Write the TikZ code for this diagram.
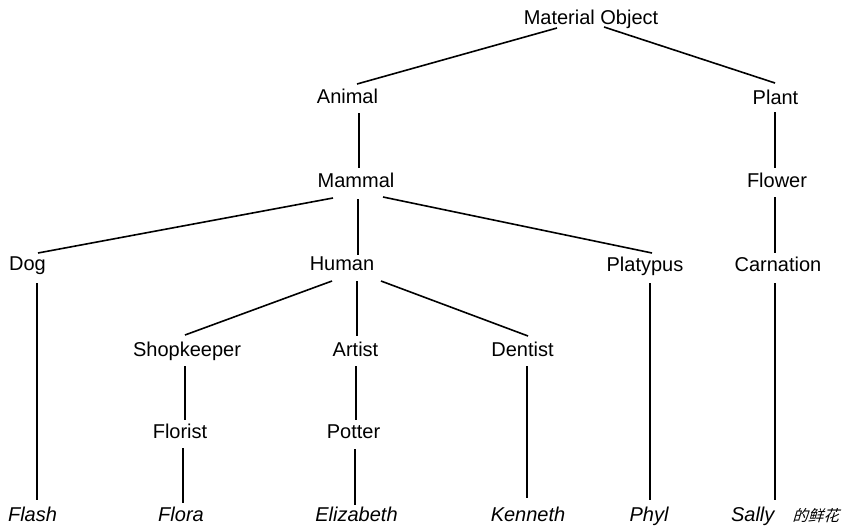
\documentclass[tikz,border=0pt]{standalone}
\usepackage{fontspec}
\setmainfont{Liberation Sans}
\newfontfamily\cjk[FakeSlant=0.3]{Noto Sans CJK SC}
\begin{document}
\begin{tikzpicture}[x=1pt,y=-1pt,
  lbl/.style={anchor=base,inner sep=0pt,font=\fontsize{20}{24}\selectfont},
  leaf/.style={lbl,font=\fontsize{20}{24}\selectfont\itshape},
  edge/.style={line width=1.6pt,line cap=butt}]
\useasboundingbox (0,0) rectangle (842,527);
% nodes
\node[lbl] (mo) at (591,25) {Material Object};
\node[lbl] (animal) at (347.5,103) {Animal};
\node[lbl] (plant) at (775.5,104) {Plant};
\node[lbl] (mammal) at (356,187) {Mammal};
\node[lbl] (flower) at (777,187) {Flower};
\node[lbl] (dog) at (27.5,270) {Dog};
\node[lbl] (human) at (342,270) {Human};
\node[lbl] (platypus) at (645,271) {Platypus};
\node[lbl] (carnation) at (778,271) {Carnation};
\node[lbl] (shopkeeper) at (187,356) {Shopkeeper};
\node[lbl] (artist) at (355.5,356) {Artist};
\node[lbl] (dentist) at (522.5,356) {Dentist};
\node[lbl] (florist) at (180,438) {Florist};
\node[lbl] (potter) at (353.5,438) {Potter};
\node[leaf] (flash) at (32.5,521) {Flash};
\node[leaf] (flora) at (181,521) {Flora};
\node[leaf] (elizabeth) at (356.5,521) {Elizabeth};
\node[leaf] (kenneth) at (528,521) {Kenneth};
\node[leaf] (phyl) at (649,521) {Phyl};
\node[leaf] (sally) at (785,521) {Sally\hspace{18pt}{\cjk\fontsize{15.5}{18}\selectfont 的鲜花}};
% edges
\draw[edge] ([shift={(-34,3)}]mo.base) -- ([shift={(9.5,-19)}]animal.base);
\draw[edge] ([shift={(13,2)}]mo.base) -- ([shift={(-0.5,-21)}]plant.base);
\draw[edge] ([shift={(11.5,10)}]animal.base) -- ([shift={(3,-19)}]mammal.base);
\draw[edge] ([shift={(-0.5,8)}]plant.base) -- ([shift={(-2,-19)}]flower.base);
\draw[edge] ([shift={(-23,11)}]mammal.base) -- ([shift={(10.5,-17)}]dog.base);
\draw[edge] ([shift={(2,12)}]mammal.base) -- ([shift={(16,-15)}]human.base);
\draw[edge] ([shift={(27,10)}]mammal.base) -- ([shift={(7,-18)}]platypus.base);
\draw[edge] ([shift={(-2,10)}]flower.base) -- ([shift={(-3,-18)}]carnation.base);
\draw[edge] ([shift={(9.5,13)}]dog.base) -- ([shift={(4.5,-21)}]flash.base);
\draw[edge] ([shift={(-10,11)}]human.base) -- ([shift={(-2,-21)}]shopkeeper.base);
\draw[edge] ([shift={(15,11)}]human.base) -- ([shift={(1.5,-20)}]artist.base);
\draw[edge] ([shift={(39,11)}]human.base) -- ([shift={(5.5,-20)}]dentist.base);
\draw[edge] ([shift={(5,12)}]platypus.base) -- ([shift={(1,-21)}]phyl.base);
\draw[edge] ([shift={(-3,12)}]carnation.base) -- ([shift={(-10,-21)}]sally.base);
\draw[edge] ([shift={(-2,10)}]shopkeeper.base) -- ([shift={(5,-18)}]florist.base);
\draw[edge] ([shift={(3,10)}]florist.base) -- ([shift={(2,-18)}]flora.base);
\draw[edge] ([shift={(0.5,10)}]artist.base) -- ([shift={(2.5,-18)}]potter.base);
\draw[edge] ([shift={(1.5,11)}]potter.base) -- ([shift={(-1.5,-16)}]elizabeth.base);
\draw[edge] ([shift={(4.5,10)}]dentist.base) -- ([shift={(-1,-23)}]kenneth.base);
\end{tikzpicture}
\end{document}
